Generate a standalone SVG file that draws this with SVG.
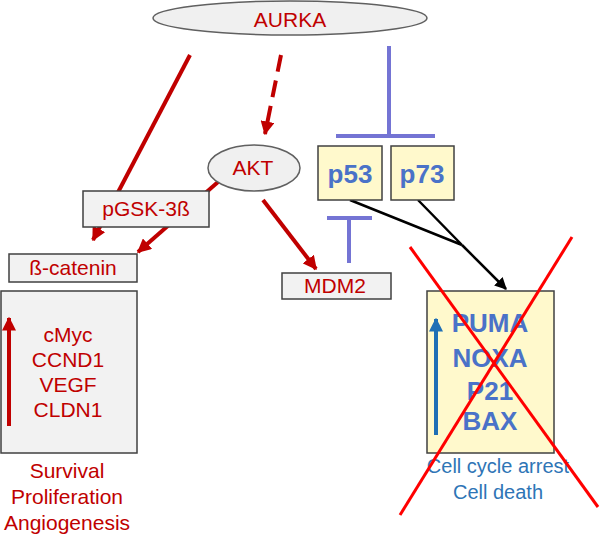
<svg xmlns="http://www.w3.org/2000/svg" width="601" height="535" viewBox="0 0 601 535">
<defs>
<style>
text{font-family:"Liberation Sans",Arial,sans-serif;text-anchor:middle}
.r{fill:#C00000;font-size:21px}
.box{fill:#F2F2F2;stroke:#404040;stroke-width:1.5}
.ybox{fill:#FFF9CC;stroke:#404040;stroke-width:1.5}
.ell{fill:#F0F0F0;stroke:#606060;stroke-width:1.5}
.ra{stroke:#C00000;stroke-width:4;fill:none}
.inh{stroke:#7474D4;stroke-width:4;fill:none}
.pb{fill:#4A72C8;font-size:26px;font-weight:bold}
.cb{fill:#2E75B6;font-size:20px}
</style>
<marker id="ar" viewBox="0 0 10 10" refX="9" refY="5" markerWidth="14" markerHeight="14" markerUnits="userSpaceOnUse" orient="auto"><path d="M0,0L10,5L0,10z" fill="#C00000"/></marker>
<marker id="ab" viewBox="0 0 10 10" refX="9" refY="5" markerWidth="12" markerHeight="12" markerUnits="userSpaceOnUse" orient="auto"><path d="M0,0L10,5L0,10z" fill="#000"/></marker>
<marker id="au" viewBox="0 0 10 10" refX="9" refY="5" markerWidth="14" markerHeight="14" markerUnits="userSpaceOnUse" orient="auto"><path d="M0,0L10,5L0,10z" fill="#1F6FB5"/></marker>
</defs>
<g id="connectors">
<line class="ra" x1="190" y1="55" x2="93" y2="240" marker-end="url(#ar)"/>
<line class="ra" x1="281" y1="55" x2="265" y2="134" stroke-dasharray="17 9" marker-end="url(#ar)"/>
<line class="ra" x1="218" y1="182" x2="138" y2="252" marker-end="url(#ar)"/>
<line class="ra" x1="263" y1="200" x2="316" y2="269" marker-end="url(#ar)"/>
<path class="inh" d="M389,46V136M336,136H435"/>
<path class="inh" d="M349,263V218M327,218H372"/>
<path d="M350,200L462,245M418,200L462,245" stroke="#000" stroke-width="2.5" fill="none"/>
<line x1="462" y1="245" x2="506" y2="289" stroke="#000" stroke-width="2.5" marker-end="url(#ab)"/>
</g>
<g id="AURKA">
<ellipse class="ell" cx="290" cy="18" rx="137" ry="17"/>
<text class="r" x="290" y="27">AURKA</text>
</g>
<g id="AKT">
<ellipse class="ell" cx="254" cy="168" rx="46" ry="23"/>
<text class="r" x="253" y="175">AKT</text>
</g>
<g id="pGSK">
<rect class="box" x="83" y="191" width="126" height="36"/>
<text class="r" x="146" y="216">pGSK-3ß</text>
</g>
<g id="bcatenin">
<rect class="box" x="9" y="254" width="128" height="28"/>
<text class="r" x="73" y="275">ß-catenin</text>
</g>
<g id="targets">
<rect class="box" x="1" y="291" width="136" height="162"/>
<line class="ra" x1="9" y1="426" x2="9" y2="318" marker-end="url(#ar)"/>
<text class="r" x="68" y="342">cMyc</text>
<text class="r" x="68" y="367">CCND1</text>
<text class="r" x="68" y="392">VEGF</text>
<text class="r" x="68" y="417">CLDN1</text>
</g>
<g id="outcome1">
<text class="r" x="67" y="478">Survival</text>
<text class="r" x="67" y="504">Proliferation</text>
<text class="r" x="67" y="530">Angiogenesis</text>
</g>
<g id="p53">
<rect class="ybox" x="318" y="146" width="64" height="54"/>
<text class="pb" x="350" y="183">p53</text>
</g>
<g id="p73">
<rect class="ybox" x="391" y="146" width="63" height="54"/>
<text class="pb" x="422" y="183">p73</text>
</g>
<g id="MDM2">
<rect class="box" x="282" y="273" width="109" height="26"/>
<text class="r" x="335" y="293">MDM2</text>
</g>
<g id="apoptosis">
<rect class="ybox" x="427" y="291" width="127" height="162"/>
<line x1="436" y1="435" x2="436" y2="319" stroke="#1F6FB5" stroke-width="4" marker-end="url(#au)"/>
<text class="pb" x="490" y="332">PUMA</text>
<text class="pb" x="490" y="367">NOXA</text>
<text class="pb" x="490" y="400">P21</text>
<text class="pb" x="490" y="430">BAX</text>
<text class="cb" x="498" y="473">Cell cycle arrest</text>
<text class="cb" x="498" y="499">Cell death</text>
</g>
<g id="cross">
<line x1="410" y1="247" x2="598" y2="507" stroke="#FF0000" stroke-width="3"/>
<line x1="572" y1="237" x2="400" y2="515" stroke="#FF0000" stroke-width="3"/>
</g>
</svg>
